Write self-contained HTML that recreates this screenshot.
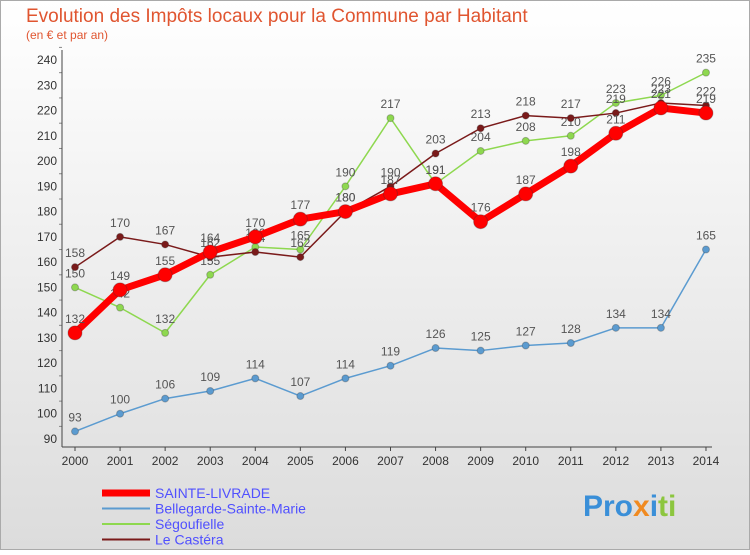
<!DOCTYPE html>
<html><head><meta charset="utf-8"><style>
body{margin:0;width:750px;height:550px;overflow:hidden;font-family:"Liberation Sans",sans-serif}
</style></head><body>
<svg id="c" width="750" height="550" xmlns="http://www.w3.org/2000/svg">
<defs><linearGradient id="bg" x1="0" y1="0" x2="0" y2="1"><stop offset="0" stop-color="#ffffff"/><stop offset="1" stop-color="#dcdcdc"/></linearGradient></defs>
<rect x="0.5" y="0.5" width="749" height="549" fill="url(#bg)" stroke="#aaa"/>
<text x="26" y="22" font-size="19" fill="#e05530">Evolution des Impôts locaux pour la Commune par Habitant</text>
<text x="26" y="39" font-size="12" fill="#e05530">(en € et par an)</text>
<g id="axes"></g><g id="series"></g><g id="legend"></g>
<g font-size="30" font-weight="bold" font-family="'Liberation Sans',sans-serif">
<text x="583" y="516" fill="#3a8fd8">Pro<tspan fill="#f08a20">x</tspan><tspan fill="#3a8fd8">i</tspan><tspan fill="#8cc63f">ti</tspan></text>
</g>
</svg>
<script>
const years=["2000","2001","2002","2003","2004","2005","2006","2007","2008","2009","2010","2011","2012","2013","2014"];
const yTicks=[90,100,110,120,130,140,150,160,170,180,190,200,210,220,230,240];
const sainte=[132,149,155,164,170,177,180,187,191,176,187,198,211,221,219];
const bellegarde=[93,100,106,109,114,107,114,119,126,125,127,128,134,134,165];
const segoufielle=[150,142,132,155,166,165,190,217,191,204,208,210,223,226,235];
const castera=[158,170,167,162,164,162,180,190,203,213,218,217,219,223,222];
const NS="http://www.w3.org/2000/svg";
const x0=75,dx=45.07,yBase=439,yTop=60;
const X=i=>x0+i*dx, Y=v=>yBase-(v-90)*(yBase-yTop)/150;
function el(t,a,p){const e=document.createElementNS(NS,t);for(const k in a)e.setAttribute(k,a[k]);p.appendChild(e);return e;}
const ax=document.getElementById('axes');
yTicks.forEach(v=>{
 const t=el('text',{x:57,y:Y(v)+4,'font-size':12,fill:'#333','text-anchor':'end'},ax);t.textContent=v;
 
 
 el('line',{x1:59,x2:62,y1:Y(v)-12.6,y2:Y(v)-12.6,stroke:'#888'},ax);
});
el('line',{x1:62,x2:62,y1:50,y2:447,stroke:'#444'},ax);
el('line',{x1:62,x2:712,y1:447,y2:447,stroke:'#444'},ax);
years.forEach((y,i)=>{
 el('line',{x1:X(i),x2:X(i),y1:447,y2:451,stroke:'#444'},ax);
 const t=el('text',{x:X(i),y:465,'font-size':12,fill:'#333','text-anchor':'middle'},ax);t.textContent=y;
 
 
});
const sg=document.getElementById('series');
function series(data,color,w,r,name){
 const g=el('g',{},sg);
 
 
 el('polyline',{points:data.map((v,i)=>X(i)+','+Y(v)).join(' '),fill:'none',stroke:color,'stroke-width':w,'stroke-linejoin':'round'},g);
 data.forEach((v,i)=>{
  const c=el('circle',{cx:X(i),cy:Y(v),r:r,fill:color,stroke:'#333','stroke-opacity':0.3},g);
  
  
  const t=el('text',{x:X(i),y:Y(v)-10,'font-size':12,fill:'#555','text-anchor':'middle'},g);t.textContent=v;
  
  
 });
}
series(bellegarde,'#5b9bd0',1.5,3.5,'series-bellegarde');
series(segoufielle,'#8ed84f',1.5,3.5,'series-segoufielle');
series(castera,'#7a1a1a',1.5,3.5,'series-castera');
series(sainte,'#ff0000',7,7,'series-sainte-livrade');
const lg=document.getElementById('legend');
[["SAINTE-LIVRADE","#ff0000",7],["Bellegarde-Sainte-Marie","#5b9bd0",2],["Ségoufielle","#8ed84f",2],["Le Castéra","#7a1a1a",2]].forEach((d,i)=>{
 const g=el('g',{},lg);
 
 
 const y=493+i*15.5;
 el('line',{x1:102,x2:150,y1:y,y2:y,stroke:d[1],'stroke-width':d[2]},g);
 const t=el('text',{x:155,y:y+5,'font-size':14,fill:'#5050ff'},g);t.textContent=d[0];
});
</script>
</body></html>
